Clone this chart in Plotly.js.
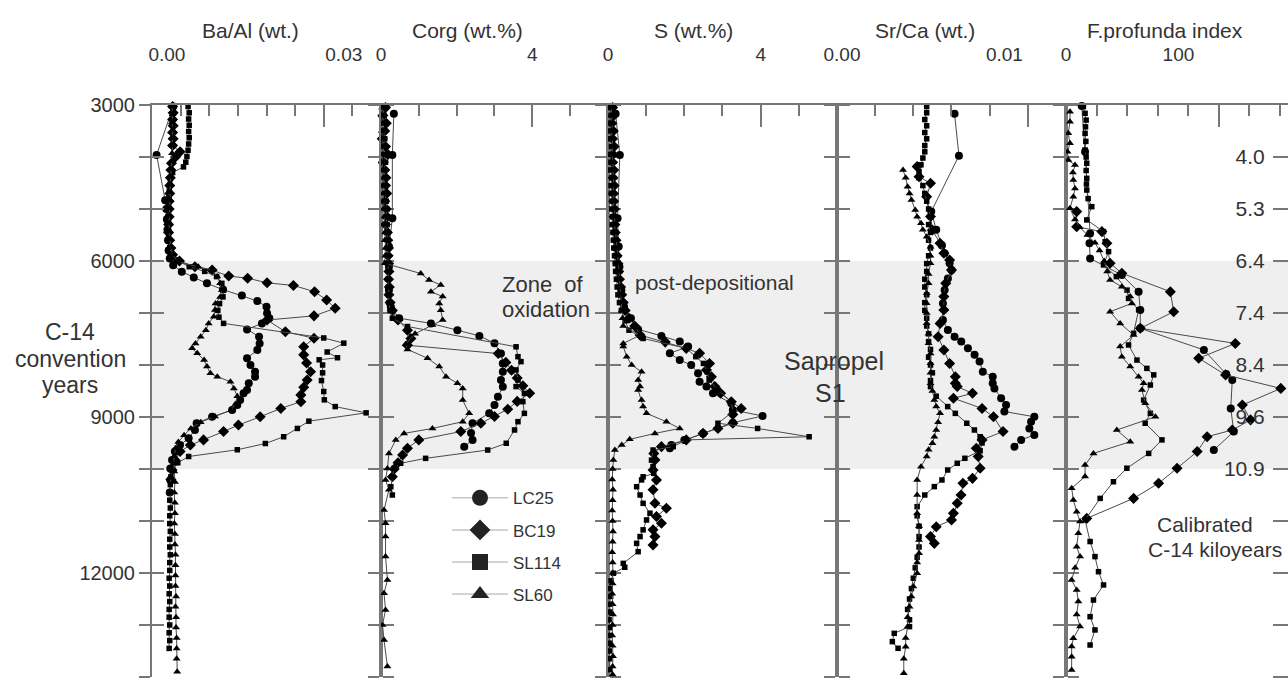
<!DOCTYPE html>
<html><head><meta charset="utf-8">
<script src="https://cdn.plot.ly/plotly-3.0.1.min.js"></script>
<style>html,body{margin:0;padding:0;overflow:hidden;background:#fff}#chart{width:1300px;height:683px}</style>
</head><body><div id="chart"></div>
<script>
// ---------- DATA: [age (C-14 years), value] ----------
const seriesNames = ['LC25','BC19','SL114','SL60'];

// Ba/Al (wt.)
const baAl_LC25 = [[3030,.0037],[3960,.0008],[4830,.0023],[5000,.0025],[5200,.0026],[5400,.0027],[5600,.0028],[5800,.0029],[5950,.0031],[6080,.0037],[6205,.0052],[6315,.0073],[6430,.0096],[6550,.0124],[6665,.0157],[6770,.0184],[6880,.0200],[7005,.0201],[7100,.0205],[7200,.0192],[7315,.0166],[7455,.0187],[7585,.0188],[7710,.0184],[7870,.0166],[8000,.0172],[8130,.0180],[8225,.0180],[8350,.0169],[8480,.0166],[8545,.0160],[8675,.0154],[8770,.0149],[8865,.0140],[8995,.0105],[9120,.0078],[9250,.0075],[9410,.0064],[9540,.0049],[9665,.0040],[9825,.0035],[9990,.0032],[10210,.0032],[10450,.0031]];
const baAl_BC19 = [[3030,.0036],[3150,.0037],[3280,.0036],[3400,.0037],[3530,.0036],[3650,.0037],[3780,.0036],[3900,.0049],[4000,.0041],[4120,.0034],[4250,.0033],[4400,.0032],[4550,.0031],[4700,.0031],[4850,.0030],[5000,.0030],[5150,.0030],[5300,.0029],[5450,.0029],[5600,.0031],[5750,.0033],[5880,.0036],[6000,.0048],[6110,.0075],[6175,.0105],[6290,.0134],[6330,.0167],[6420,.0201],[6470,.0247],[6590,.0284],[6750,.0305],[6910,.0320],[7055,.0283],[7135,.0201],[7360,.0233],[7485,.0283],[7650,.0265],[7805,.0265],[7960,.0270],[8130,.0277],[8290,.0271],[8430,.0265],[8575,.0260],[8705,.0260],[8835,.0225],[8995,.0189],[9155,.0151],[9280,.0125],[9440,.0090],[9540,.0067],[9665,.0049],[9825,.0040],[10020,.0035],[10200,.0033]];
const baAl_SL114 = [[3030,.0063],[3150,.0065],[3270,.0064],[3390,.0065],[3510,.0064],[3630,.0065],[3750,.0064],[3870,.0063],[3990,.0061],[4100,.0059],[4190,.0055],[4300,.0036],[4420,.0032],[4540,.0031],[4660,.0030],[4780,.0030],[4900,.0029],[5020,.0029],[5140,.0028],[5260,.0029],[5380,.0028],[5500,.0029],[5620,.0030],[5740,.0031],[5860,.0034],[5980,.0042],[6110,.0065],[6200,.0092],[6300,.0113],[6430,.0122],[6560,.0125],[6690,.0124],[6820,.0118],[6950,.0115],[7080,.0117],[7200,.0125],[7480,.0300],[7580,.0335],[7750,.0306],[7860,.0324],[7900,.0292],[8000,.0298],[8150,.0298],[8300,.0296],[8510,.0300],[8670,.0301],[8800,.0320],[8920,.0374],[9080,.0274],[9220,.0254],[9380,.0230],[9510,.0198],[9630,.0149],[9760,.0064],[9880,.0045],[10000,.0036],[10150,.0033],[10300,.0032],[10450,.0032],[10600,.0031],[10750,.0032],[10900,.0031],[11050,.0031],[11200,.0032],[11350,.0031],[11500,.0031],[11650,.0032],[11800,.0031],[11950,.0031],[12100,.0030],[12250,.0031],[12400,.0030],[12550,.0031],[12700,.0030],[12850,.0030],[13000,.0031],[13150,.0030],[13300,.0031],[13450,.0030]];
const baAl_SL60 = [[3030,.0035],[3180,.0036],[3330,.0035],[3480,.0036],[3630,.0035],[3780,.0036],[3930,.0035],[4080,.0034],[4230,.0033],[4380,.0033],[4530,.0032],[4680,.0032],[4830,.0031],[4980,.0031],[5130,.0031],[5280,.0030],[5430,.0030],[5580,.0031],[5730,.0033],[5880,.0036],[6015,.0045],[6110,.0081],[6175,.0105],[6300,.0114],[6430,.0119],[6560,.0122],[6690,.0119],[6815,.0111],[6940,.0110],[7070,.0108],[7200,.0099],[7330,.0094],[7455,.0085],[7585,.0076],[7680,.0070],[7775,.0079],[7905,.0091],[8030,.0096],[8160,.0102],[8225,.0114],[8320,.0137],[8450,.0143],[8600,.0149],[8750,.0146],[8870,.0138],[8990,.0110],[9100,.0085],[9220,.0068],[9350,.0056],[9480,.0046],[9600,.0041],[9750,.0039],[9900,.0038],[10050,.0039],[10250,.0040],[10450,.0039],[10650,.0040],[10850,.0040],[11050,.0039],[11250,.0040],[11450,.0040],[11650,.0041],[11850,.0041],[12050,.0041],[12250,.0041],[12450,.0042],[12650,.0041],[12850,.0042],[13050,.0042],[13250,.0043],[13450,.0043],[13650,.0043],[13900,.0044]];

// Corg (wt.%)
const corg_LC25 = [[3170,.34],[3960,.30],[5180,.30],[5720,.21],[6110,.21],[6560,.21],[6880,.26],[7100,.48],[7200,1.32],[7330,2.02],[7440,2.60],[7580,3.00],[7780,3.17],[7970,3.22],[8130,3.22],[8290,3.17],[8420,3.22],[8610,3.09],[8770,3.00],[8930,2.86],[9120,2.42],[9310,2.38],[9440,2.42],[9570,2.20]];
const corg_BC19 = [[3050,.12],[3200,.05],[3350,.14],[3500,.10],[3650,.03],[3800,.12],[3950,.18],[4100,.06],[4250,.10],[4400,.13],[4550,.12],[4700,.15],[4850,.10],[5000,.14],[5150,.16],[5300,.12],[5450,.17],[5600,.18],[5750,.20],[5900,.19],[6050,.20],[6200,.21],[6350,.20],[6500,.22],[6650,.21],[6800,.24],[6950,.30],[7135,.45],[7330,.70],[7490,.79],[7620,.70],[7780,3.10],[7950,3.30],[8100,3.45],[8250,3.60],[8400,3.75],[8545,3.93],[8700,3.60],[8850,3.35],[8990,3.00],[9120,2.64],[9280,2.11],[9440,1.00],[9600,.70],[9730,.57],[9880,.45],[10000,.35],[10150,.30]];
const corg_SL114 = [[3050,.05],[3200,.08],[3350,.03],[3500,.06],[3650,.10],[3800,.05],[3950,.08],[4100,.12],[4250,.09],[4400,.10],[4550,.08],[4700,.12],[4850,.14],[5000,.15],[5150,.13],[5300,.16],[5450,.15],[5600,.18],[5750,.17],[5900,.19],[6050,.18],[6200,.20],[6350,.19],[6500,.20],[6650,.20],[6800,.21],[6950,.24],[7100,.30],[7260,.70],[7650,3.57],[7840,3.62],[7935,3.70],[8095,3.57],[8290,3.62],[8415,3.57],[8545,3.79],[8705,3.75],[8930,3.79],[9090,3.62],[9250,3.53],[9505,3.31],[9635,2.82],[9795,1.18],[9890,.52],[9990,.34],[10150,.30],[10340,.26],[10500,.30]];
const corg_SL60 = [[3050,.03],[3200,.02],[3350,.05],[3500,.02],[3650,.04],[3800,.06],[3950,.04],[4100,.03],[4250,.05],[4400,.07],[4550,.06],[4700,.05],[4850,.08],[5000,.07],[5150,.09],[5300,.10],[5450,.11],[5600,.10],[5750,.12],[5900,.11],[6045,.10],[6240,1.05],[6365,1.27],[6460,1.58],[6590,1.32],[6685,1.63],[6815,1.54],[6945,1.58],[7135,1.63],[7230,1.36],[7400,.90],[7600,.65],[7700,.70],[7870,1.23],[8030,1.54],[8225,1.72],[8350,2.02],[8450,2.16],[8675,2.16],[8930,2.33],[9090,2.16],[9220,1.36],[9315,.61],[9440,.39],[9700,.21],[9990,.17],[10210,.12],[10400,.21],[10790,.08],[11045,.12],[11300,.12],[11685,.12],[12135,.17],[12390,.08],[12710,.12],[13000,.04],[13290,.08],[13800,.17]];

// S (wt.%)
const s_LC25 = [[3170,.20],[3960,.31],[5180,.25],[5720,.28],[6110,.30],[6560,.35],[6880,.42],[7100,.60],[7315,.79],[7440,1.40],[7550,1.88],[7645,2.10],[7775,1.62],[7905,1.88],[8000,2.18],[8160,2.36],[8320,2.40],[8415,2.58],[8545,2.75],[8735,3.23],[8865,3.27],[8980,4.05],[9110,3.27],[9315,2.49],[9440,2.00],[9540,1.66],[9600,1.62]];
const s_BC19 = [[3050,.12],[3200,.15],[3350,.10],[3500,.14],[3650,.12],[3800,.16],[3950,.13],[4100,.12],[4250,.15],[4400,.13],[4550,.16],[4700,.14],[4850,.15],[5000,.17],[5150,.16],[5300,.18],[5450,.19],[5600,.21],[5750,.22],[5900,.24],[6050,.26],[6200,.28],[6350,.30],[6500,.33],[6650,.36],[6800,.40],[6950,.45],[7100,.55],[7250,.70],[7425,.84],[7560,1.50],[7680,2.05],[7775,2.40],[7970,2.66],[8095,2.58],[8225,2.71],[8415,2.80],[8545,2.95],[8705,3.23],[8835,3.49],[8950,3.27],[9120,3.27],[9220,2.88],[9315,2.49],[9440,2.05],[9570,1.40],[9700,1.20],[9825,1.23],[10020,1.18],[10210,1.27],[10400,1.18],[10660,1.23],[10755,1.53],[10915,1.27],[11045,1.40],[11170,1.18],[11300,1.23],[11460,1.18]];
const s_SL114 = [[3050,.05],[3200,.08],[3350,.04],[3500,.07],[3650,.06],[3800,.09],[3950,.05],[4100,.08],[4250,.07],[4400,.10],[4550,.08],[4700,.09],[4850,.11],[5000,.10],[5150,.12],[5300,.11],[5450,.13],[5600,.14],[5750,.15],[5900,.17],[6050,.19],[6200,.20],[6350,.22],[6500,.24],[6650,.26],[6800,.30],[6950,.35],[7150,.45],[7330,.55],[7490,.92],[7680,2.05],[7840,2.30],[7970,2.50],[8130,2.60],[8290,2.65],[8480,2.88],[8705,3.23],[8900,3.27],[9120,2.88],[9220,3.92],[9380,5.27],[9440,2.05],[9570,1.71],[9635,1.18],[9830,1.14],[9955,1.18],[10085,1.20],[10150,.92],[10210,.88],[10340,.75],[10500,.84],[10660,.92],[10850,1.10],[10980,1.01],[11170,.92],[11300,.84],[11430,.75],[11590,.79],[11815,.40],[11890,.44],[12005,.14],[12150,.08],[12300,.05],[12450,.07],[12600,.04],[12750,.06],[12900,.03],[13050,.05],[13200,.04],[13350,.06],[13500,.04],[13650,.05],[13860,.04]];
const s_SL60 = [[3050,.10],[3200,.08],[3350,.12],[3500,.09],[3650,.11],[3800,.13],[3950,.10],[4100,.14],[4250,.12],[4400,.15],[4550,.13],[4700,.16],[4850,.14],[5000,.17],[5150,.18],[5300,.17],[5450,.20],[5600,.22],[5750,.24],[5900,.25],[6050,.27],[6200,.29],[6350,.30],[6500,.32],[6650,.33],[6800,.34],[6950,.36],[7100,.38],[7250,.40],[7425,.84],[7585,.40],[7645,.40],[7840,.49],[8000,.62],[8130,.88],[8290,.79],[8415,.84],[8480,.79],[8675,.88],[8800,.92],[8930,1.01],[9090,1.53],[9220,1.88],[9315,1.23],[9430,.57],[9540,.36],[9635,.18],[9825,.14],[10000,.12],[10200,.11],[10400,.13],[10600,.12],[10800,.11],[11000,.12],[11200,.13],[11400,.12],[11600,.11],[11800,.12],[12000,.13],[12200,.12],[12400,.11],[12600,.12],[12800,.13],[13000,.12],[13200,.11],[13400,.12],[13600,.13],[13800,.12],[13950,.12]];

// Sr/Ca (wt.)
const srca_LC25 = [[3170,.00616],[3975,.00639],[5050,.00494],[5400,.00520],[5700,.00550],[5850,.00564],[6045,.00590],[6175,.00600],[6335,.00581],[6560,.00564],[6815,.00555],[7135,.00555],[7325,.00581],[7455,.00616],[7550,.00651],[7680,.00686],[7805,.00721],[7935,.00747],[8130,.00764],[8225,.00816],[8350,.00816],[8450,.00825],[8640,.00860],[8770,.00886],[8895,.00877],[8995,.01034],[9090,.01017],[9220,.01008],[9345,.01034],[9440,.00965],[9570,.00930]];
const srca_BC19 = [[4185,.0042],[4380,.0043],[4505,.0049],[4765,.0047],[5145,.0049],[5405,.0050],[5660,.0054],[5850,.0056],[5980,.0059],[6175,.0060],[6430,.0057],[6685,.0056],[6940,.0056],[7200,.0054],[7455,.0053],[7710,.0056],[7970,.0059],[8225,.0062],[8350,.0062],[8415,.0063],[8545,.0071],[8640,.0061],[8835,.0076],[8995,.0082],[9280,.0087],[9440,.0076],[9600,.0073],[9760,.0074],[9985,.0075],[10180,.0071],[10275,.0066],[10500,.0065],[10660,.0063],[10850,.0061],[10980,.0060],[11110,.0052],[11300,.0049],[11430,.0051]];
const srca_SL114 = [[3030,.0047],[3150,.0047],[3280,.0046],[3400,.0047],[3530,.0046],[3650,.0047],[3780,.0046],[3900,.0046],[4020,.0045],[4150,.0044],[4280,.0043],[4400,.0043],[4550,.0045],[4700,.0046],[4850,.0047],[5000,.0048],[5150,.0049],[5300,.0048],[5450,.0049],[5600,.0048],[5750,.0049],[5900,.0048],[6050,.0047],[6200,.0047],[6350,.0046],[6500,.0046],[6650,.0047],[6800,.0046],[6950,.0046],[7100,.0047],[7250,.0047],[7400,.0048],[7550,.0048],[7700,.0049],[7850,.0048],[8000,.0049],[8150,.0050],[8300,.0049],[8416,.0049],[8600,.0052],[8800,.0058],[8930,.0062],[9120,.0068],[9250,.0072],[9380,.0075],[9500,.0076],[9650,.0075],[9794,.0067],[9890,.0063],[10019,.0058],[10211,.0055],[10339,.0051],[10500,.0046],[10724,.0042],[10900,.0042],[11100,.0043],[11300,.0043],[11500,.0043],[11700,.0042],[11900,.0041],[12100,.0040],[12300,.0039],[12500,.0038],[12700,.0037],[12900,.0038],[13032,.0038],[13160,.0030],[13320,.0029],[13448,.0032]];
const srca_SL60 = [[4250,.00346],[4400,.0036],[4571,.0037],[4700,.0038],[4827,.0039],[5019,.0041],[5150,.0042],[5276,.0044],[5400,.0045],[5532,.0047],[5724,.0049],[5900,.0049],[6045,.0049],[6250,.0048],[6429,.0048],[6620,.0047],[6814,.0047],[7000,.0047],[7199,.0047],[7400,.0048],[7583,.0048],[7780,.0049],[7968,.0049],[8150,.0049],[8352,.0049],[8500,.0050],[8673,.0051],[8800,.0052],[8929,.0054],[9100,.0053],[9250,.0052],[9380,.0051],[9506,.0050],[9630,.0048],[9762,.0047],[9955,.0044],[10211,.0042],[10500,.0042],[10852,.0042],[11100,.0043],[11365,.0043],[11621,.0043],[11800,.0042],[12006,.0042],[12262,.0040],[12450,.0039],[12647,.0038],[12850,.0037],[13032,.0037],[13250,.0036],[13416,.0036],[13650,.0035],[13929,.0035]];

// F.profunda index
const fp_LC25 = [[3020,10.3],[3900,12.5],[5470,15.8],[5660,15.4],[5950,15.8],[6270,36.6],[6590,47.6],[6940,48.7],[7295,48.7],[7710,90.4],[8175,105],[8290,109],[8835,108],[9280,110],[9635,96.9]];
const fp_BC19 = [[5050,7],[5340,7],[5435,23.5],[5660,26.8],[6045,28.9],[6235,36.6],[6590,68.4],[6975,70.6],[7295,48.7],[7585,111],[7870,87],[8190,104.6],[8450,140.8],[8770,115.6],[9055,121],[9250,109],[9380,92.5],[9665,86],[9985,72.8],[10275,60.7],[10565,44.3],[10950,13.6]];
const fp_SL114 = [[3030,11.4],[3160,12.5],[3290,13.2],[3420,12.8],[3545,12.5],[3700,13.0],[3865,12.5],[4000,13.2],[4120,13.6],[4260,13.2],[4410,13.6],[4520,13.4],[4635,13.6],[4800,14.5],[4955,16.9],[5210,13.6],[5435,24.6],[5630,25.7],[5820,27.9],[6075,24.6],[6300,33],[6560,40],[6720,41],[6940,47.6],[7390,44.3],[7615,41],[7905,46.5],[8065,53],[8190,57.5],[8385,55.3],[8675,50.9],[8930,55.3],[9120,51.9],[9440,62.9],[9700,54.2],[9985,39.9],[10245,31.1],[10565,22.4],[10980,12.5],[11395,15.8],[11685,19],[11975,21.3],[12230,24.6],[12520,18],[12840,15.8],[13095,19],[13385,15.8]];
const fp_SL60 = [[3130,2.6],[3320,2.6],[3545,1.5],[3735,2.6],[3900,1.0],[4060,1.5],[4155,5.9],[4300,4.5],[4440,4.8],[4605,5.9],[4765,4.8],[4985,2.6],[5200,5.9],[5350,9],[5500,14],[5650,19],[5800,22],[6000,25],[6200,27],[6365,28.9],[6495,36.6],[6685,42.1],[6815,43.2],[6975,28.9],[7200,35.5],[7425,44.3],[7645,35.5],[7840,36.6],[8030,42.1],[8225,47.6],[8350,50.9],[8480,49.8],[8735,52],[8995,58.6],[9250,33.3],[9475,42.1],[9700,18],[9925,12.5],[10145,12.5],[10370,3.7],[10595,4.8],[10820,7],[11010,9.2],[11235,8.1],[11495,7],[11685,9.2],[11900,6],[12135,3.7],[12325,7],[12550,8.1],[12800,7],[13030,9.2],[13255,4.8],[13415,3.7],[13610,3.7],[13865,3.7]];

// Tick labels
const panelTitles = ['Ba/Al (wt.)','Corg (wt.%)','S (wt.%)','Sr/Ca (wt.)','F.profunda index'];
const xTickText = [['0.00','0.03'],['0','4'],['0','4'],['0.00','0.01'],['0','100']];
const yTickVals = [3000,4000,5000,6000,7000,8000,9000,10000,11000,12000,13000,14000];
const yTickText = ['3000','','','6000','','','9000','','','12000','',''];
const calibTickVals = [4000,5000,6000,7000,8000,9000,10000,11000,12000,13000,14000];
const calibTickText = ['4.0','5.3','6.4','7.4','8.4','9.6','10.9','','','',''];

// ---------- CONFIG ----------
const FONT = 'Liberation Sans, Arial, sans-serif';
const TXT = '#333333';
const AX = '#777777';
const panelData = [
  [baAl_LC25, baAl_BC19, baAl_SL114, baAl_SL60],
  [corg_LC25, corg_BC19, corg_SL114, corg_SL60],
  [s_LC25, s_BC19, s_SL114, s_SL60],
  [srca_LC25, srca_BC19, srca_SL114, srca_SL60],
  [fp_LC25, fp_BC19, fp_SL114, fp_SL60]
];
const axisCfg = [
  {range:[0,0.04],  major:0.03, dtick:0.005, labelAt:[0.0026,0.0335]},
  {range:[0,6],     major:4,    dtick:1,     labelAt:[0,4]},
  {range:[0,6],     major:4,    dtick:1,     labelAt:[0,4]},
  {range:[0,0.012], major:0.01, dtick:0.002, labelAt:[0.00026,0.00877]},
  {range:[0,147.5], major:100,  dtick:20,    labelAt:[0,73.7]}
];
const domains = [0, 0.20105, 0.40035, 0.60140, 0.80246, 1];
const markerStyle = {
  LC25: {symbol:'circle', size:8},
  BC19: {symbol:'diamond', size:8.5},
  SL114:{symbol:'square', size:5.5},
  SL60: {symbol:'triangle-up', size:7}
};

const traces = [];
const layout = {
  width:1300, height:683,
  margin:{l:152, r:9, t:105, b:6},
  paper_bgcolor:'#ffffff', plot_bgcolor:'#ffffff',
  font:{family:FONT, color:TXT},
  showlegend:true,
  legend:{x:0.259, y:0.344, xanchor:'left', yanchor:'top', bgcolor:'rgba(0,0,0,0)',
          font:{family:FONT, size:17, color:TXT}, tracegroupgap:7, itemwidth:56, traceorder:'grouped'},
  shapes:[{type:'rect', xref:'paper', yref:'y', x0:0, x1:1, y0:6000, y1:10000,
           fillcolor:'#efefef', line:{width:0}, layer:'below'}],
  annotations:[]
};

// invisible helper trace so that an axis without data still gets drawn
function axisHolder(xid, yid) {
  return {type:'scatter', mode:'markers', x:[null], y:[null], xaxis:xid, yaxis:yid,
          showlegend:false, hoverinfo:'skip', marker:{size:1, opacity:0}};
}

for (let i = 0; i < 5; i++) {
  const n = i + 1;
  const xid = n === 1 ? 'x' : 'x' + n;
  const yid = n === 1 ? 'y' : 'y' + n;
  const xkey = n === 1 ? 'xaxis' : 'xaxis' + n;
  const ykey = n === 1 ? 'yaxis' : 'yaxis' + n;
  const c = axisCfg[i];
  // main axis: line + tick labels
  layout[xkey] = {
    domain:[domains[i], domains[i+1]], anchor:yid, side:'top', range:c.range, autorange:false,
    showline:true, linecolor:AX, linewidth:2, showgrid:false, zeroline:false,
    ticks:'', tickmode:'array', tickvals:c.labelAt, ticktext:xTickText[i],
    tickfont:{family:FONT, size:19, color:TXT}, ticklabelstandoff:34
  };
  // companion axis: tick marks (long major + short minor)
  const oid = 'x' + (n + 5);
  layout['xaxis' + (n + 5)] = {
    overlaying:xid, anchor:yid, side:'top', range:c.range, autorange:false,
    showline:false, showgrid:false, zeroline:false, showticklabels:false,
    ticks:'inside', tickmode:'array', tickvals:[c.major], ticklen:22, tickwidth:2, tickcolor:AX,
    minor:{ticks:'inside', tick0:0, dtick:c.dtick, ticklen:11, tickwidth:2, tickcolor:AX}
  };
  traces.push(axisHolder(oid, yid));
  layout[ykey] = {
    domain:[0,1], anchor:xid, range:[14000,3000], autorange:false,
    showline:true, linecolor:AX, linewidth:2, mirror:'ticks',
    ticks:'outside', ticklen:11, tickwidth:2, tickcolor:AX,
    tickmode:'array', tickvals:yTickVals, ticktext:yTickText,
    showticklabels:n === 1, showgrid:false, zeroline:false,
    tickfont:{family:FONT, size:20, color:TXT}
  };
  panelData[i].forEach((pairs, k) => {
    const name = seriesNames[k];
    traces.push({
      type:'scatter', mode:'lines+markers', name:name, legendgroup:name, showlegend:false,
      x:pairs.map(p => p[1]), y:pairs.map(p => p[0]), xaxis:xid, yaxis:yid,
      line:{color:'#4a4a4a', width:1},
      marker:{color:'#000000', symbol:markerStyle[name].symbol, size:markerStyle[name].size, line:{width:0}},
      cliponaxis:false, hoverinfo:'x+y+name'
    });
  });
  const titleX = [250, 467, 693, 925, 1165][i];
  layout.annotations.push({xref:'paper', yref:'paper', x:(titleX-152)/1139, y:(677-30)/572,
    text:panelTitles[i], showarrow:false, xanchor:'center', yanchor:'middle',
    font:{family:FONT, size:21, color:TXT}});
}

// legend entries (no marks drawn)
seriesNames.forEach(name => {
  traces.push({type:'scatter', mode:'lines+markers', name:name, legendgroup:name, showlegend:true,
    x:[null], y:[null], xaxis:'x', yaxis:'y',
    line:{color:'#c4c4c4', width:1.5},
    marker:{color:'#222222', symbol:markerStyle[name].symbol, size:16}});
});

// calibrated age axis on the right
layout.yaxis6 = {
  overlaying:'y5', anchor:'free', position:1, side:'left', range:[14000,3000], autorange:false,
  showline:false, showgrid:false, zeroline:false,
  ticks:'outside', ticklen:18, tickwidth:2, tickcolor:AX,
  tickmode:'array', tickvals:calibTickVals, ticktext:calibTickText,
  tickfont:{family:FONT, size:21, color:TXT}, ticklabelstandoff:4
};
traces.push(axisHolder('x5', 'y6'));

// inward ticks on the left edge of the first panel
layout.yaxis7 = {
  overlaying:'y', anchor:'x', side:'left', range:[14000,3000], autorange:false,
  showline:false, showgrid:false, zeroline:false, showticklabels:false,
  ticks:'inside', ticklen:12, tickwidth:2, tickcolor:AX,
  tickmode:'array', tickvals:yTickVals
};
traces.push(axisHolder('x', 'y7'));

function ann(text, px, py, size, xanchor) {
  layout.annotations.push({xref:'paper', yref:'paper', x:(px-152)/1139, y:(677-py)/572,
    text:text, showarrow:false, xanchor:xanchor || 'center', yanchor:'middle',
    font:{family:FONT, size:size, color:TXT}});
}
ann('C-14', 70, 332, 23);
ann('convention', 70, 359, 23);
ann('years', 70, 385, 23);
ann('Zone\u00a0\u00a0of', 500, 284, 22, 'left');
ann('oxidation', 500, 309, 22, 'left');
ann('post-depositional', 633, 282, 21, 'left');
ann('Sapropel', 834, 361, 25);
ann('S1', 830, 393, 25);
ann('Calibrated', 1205, 524, 21);
ann('C-14 kiloyears', 1215, 549, 21);

Plotly.newPlot('chart', traces, layout, {displayModeBar:false, responsive:false});
</script>
</body></html>
